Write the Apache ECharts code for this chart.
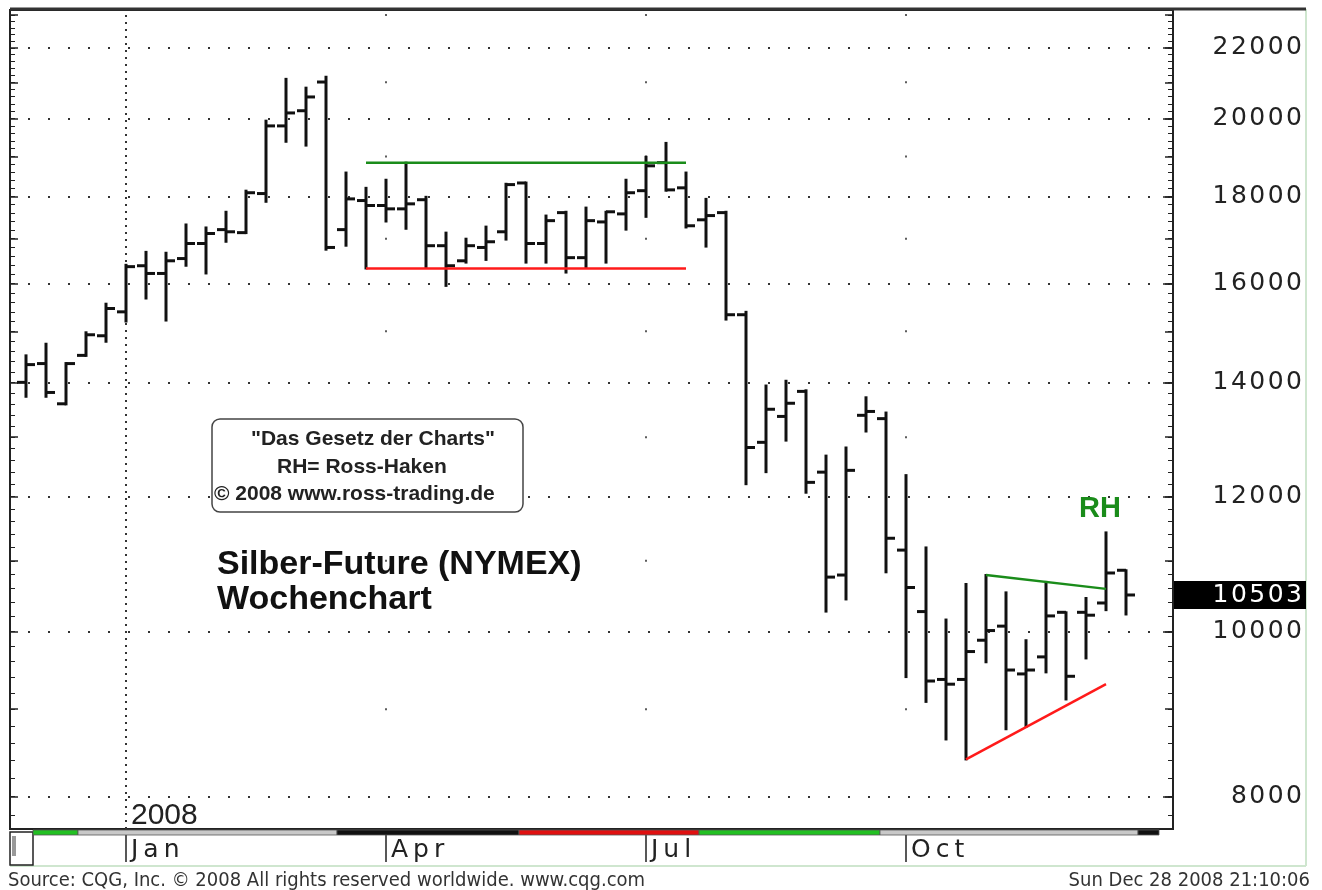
<!DOCTYPE html>
<html lang="de">
<head>
<meta charset="utf-8">
<title>Silber-Future (NYMEX) Wochenchart</title>
<script src="https://cdn.jsdelivr.net/npm/echarts@6/dist/echarts.min.js"></script>
<style>
  html, body { margin: 0; padding: 0; background: #fff; }
  #chart { width: 1322px; height: 890px; }
</style>
</head>
<body>
<div id="chart"></div>
<script>
// Wochenbalken Silber (NYMEX), Woche 0 = Ende Nov 2007, letzte Woche = Dez 2008
var opens  = [14000, 14360, 13600, 14520, 14910, 15400, 16390, 16220, 16550, 16890,
              17210, 17140, 18070, 19800, 20210, 21010, 17210, 17900, 17780, 17700,
              17920, 16840, 16500, 16800, 17160, 18330, 16890, 17610, 16570, 17390,
              17580, 18140, 18840, 18210, 17440, 17610, 15340, 12910, 13370, 13830,
              12400, 10790, 13390, 13330, 11160, 10270, 9370, 9370, 9880, 10070,
              9440, 9660, 10260, 10260, 10390, 10860];
var highs  = [14520, 14750, 14370, 14980, 15570, 16410, 16700, 16680, 17330, 17260,
              17630, 18140, 19940, 21100, 20850, 21160, 18590, 18210, 18410, 18840,
              17990, 17140, 17000, 17280, 18310, 18340, 17540, 17630, 17730, 17630,
              18410, 18990, 19350, 18590, 17940, 17630, 15400, 13940, 14030, 13850,
              12680, 12820, 13720, 13440, 12350, 11200, 10160, 10660, 10790, 10540,
              9880, 10690, 10260, 10460, 11430, 10860];
var lows   = [13730, 13730, 13590, 14510, 14790, 15200, 15680, 15220, 16390, 16220,
              16930, 17130, 17870, 19380, 19280, 16750, 16840, 16330, 17400, 17230,
              16350, 15950, 16460, 16520, 16980, 16460, 16460, 16240, 16350, 16460,
              17210, 17510, 18140, 17260, 16820, 15240, 12200, 12400, 12940, 12060,
              10270, 10440, 13100, 10830, 9400, 9090, 8640, 8410, 9590, 8760,
              8790, 9460, 9120, 9640, 10290, 10230];
var closes = [14340, 13810, 14360, 14930, 15470, 16370, 16220, 16500, 16890, 17120,
              17160, 18090, 19800, 20150, 20590, 16800, 17940, 17780, 17700, 17820,
              16840, 16390, 16840, 16930, 18290, 16890, 17420, 16570, 17420, 17630,
              18090, 18760, 18160, 17300, 17540, 15340, 12820, 13500, 13610, 12230,
              10760, 12430, 13460, 11340, 10610, 9350, 9310, 9730, 10010, 9490,
              9490, 10210, 9410, 10220, 10820, 10503];
var lastPrice = 10503;

var monthLabels = ['Jan', 'Apr', 'Jul', 'Oct'];
var monthWeeks  = [5, 18, 31, 44];
var priceLabels = [8000, 10000, 12000, 14000, 16000, 18000, 20000, 22000];
var halfLevels  = [9000, 11000, 13000, 15000, 17000, 19000, 21000, 23000];

// Trendlinien [Woche, Preis]
var resistance = [[17, 18840], [33, 18840]];
var support    = [[17, 16330], [33, 16330]];
var rhLine     = [[48, 10790], [54, 10590]];
var riseLine   = [[47, 8410], [54, 9310]];
var rhMark     = [53.7, 11790];

// Kontrakt-Leiste unter dem Chart
var stripStart = [0.35, 2.6, 15.55, 24.65, 33.65, 42.7, 55.6];
var stripEnd   = [2.6, 15.55, 24.65, 33.65, 42.7, 55.6, 56.65];
var stripColor = ['#22c022', '#c8c8c8', '#111111', '#e01010', '#22c022', '#c8c8c8', '#111111'];

var lg = function (v) { return Math.log10(v); };
var X_MIN = -0.8, X_MAX = 57.35;
var Y_MIN = lg(7655), Y_MAX = lg(23158);

function steps(a, b, s) { var r = []; for (var v = a; v <= b; v += s) r.push(lg(v)); return r; }
var minorTicks = steps(7800, 23000, 200);
var midTicks = steps(8000, 23000, 1000);
var majorTicks = priceLabels.map(lg);

function spaced(s, sep) { return String(s).split('').join(sep); }

var ohlc = opens.map(function (o, i) {
  return [i, lg(o), lg(highs[i]), lg(lows[i]), lg(closes[i])];
});
var toXY = function (p) { return [p[0], lg(p[1])]; };

var dots = [];
[18, 31, 44].forEach(function (w) {
  halfLevels.forEach(function (v) { dots.push([w, lg(v)]); });
});

var GREEN = '#1a8c1a', RED = '#ff1a1a';
var PLOT = { left: 10, top: 10, width: 1163, height: 819 };

var chart = echarts.init(document.getElementById('chart'));

function plotGrid(extra) { return Object.assign({}, PLOT, extra || {}); }
function plainX(i) { return { gridIndex: i, type: 'value', min: X_MIN, max: X_MAX, show: false }; }
function tickY(gi, pos, vals, len, w) {
  return {
    gridIndex: gi, type: 'value', position: pos, min: Y_MIN, max: Y_MAX,
    axisLine: { show: false, onZero: false }, axisLabel: { show: false }, splitLine: { show: false },
    axisTick: { show: true, inside: true, length: len, customValues: vals,
                lineStyle: { color: '#222', width: w } }
  };
}

var option = {
  animation: false,
  backgroundColor: '#fff',
  grid: [
    plotGrid({ show: true, borderColor: '#222', borderWidth: 2 }),
    plotGrid(), plotGrid(), plotGrid(), plotGrid(),
    { left: 10, top: 830, width: 1163, height: 5 }
  ],
  xAxis: [
    {
      gridIndex: 0, type: 'value', min: X_MIN, max: X_MAX,
      axisLine: { show: false, onZero: false }, splitLine: { show: false },
      axisTick: { show: true, customValues: monthWeeks, length: 33,
                  lineStyle: { color: '#222', width: 1.5 } },
      axisLabel: {
        customValues: monthWeeks, align: 'left', margin: 9, padding: [0, 0, 0, 5],
        fontFamily: 'DejaVu Sans', fontSize: 25, color: '#222',
        formatter: function (v) { return spaced(monthLabels[monthWeeks.indexOf(v)], '\u2009'); }
      }
    },
    plainX(1), plainX(2), plainX(3), plainX(4), plainX(5)
  ],
  yAxis: [
    {
      gridIndex: 0, type: 'value', position: 'right', min: Y_MIN, max: Y_MAX,
      axisLine: { show: false, onZero: false },
      axisTick: { show: true, inside: true, length: 10, customValues: majorTicks,
                  lineStyle: { color: '#222', width: 1.5 } },
      splitLine: { show: true, lineStyle: { color: '#333', width: 2, type: [2, 18], dashOffset: 2 } },
      axisLabel: {
        customValues: majorTicks.concat([lg(lastPrice)]), margin: 133, align: 'right',
        formatter: function (v) {
          var p = Math.round(Math.pow(10, v));
          return (p === lastPrice ? '{last|' : '{n|') + spaced(p, '\u200a') + '}';
        },
        rich: {
          n: { fontFamily: 'DejaVu Sans', fontSize: 25, color: '#222', padding: [0, 4, 0, 0] },
          last: { fontFamily: 'DejaVu Sans', fontSize: 25, color: '#fff', backgroundColor: '#000',
                  width: 128, height: 27, align: 'right', padding: [1, 4, 0, 0] }
        }
      }
    },
    tickY(1, 'right', minorTicks, 5, 1),
    tickY(2, 'left', minorTicks, 5, 1),
    tickY(3, 'right', midTicks, 8, 1.5),
    tickY(4, 'left', midTicks, 8, 1.5),
    { gridIndex: 5, type: 'value', min: 0, max: 1, show: false }
  ],
  series: [
    {
      type: 'scatter', xAxisIndex: 0, yAxisIndex: 0, data: dots, silent: true,
      symbol: 'rect', symbolSize: 2, itemStyle: { color: '#333' }, z: 1
    },
    {
      type: 'custom', xAxisIndex: 0, yAxisIndex: 0, data: ohlc, z: 5,
      encode: { x: 0, y: [1, 2, 3, 4] },
      renderItem: function (params, api) {
        var x = api.value(0);
        var o = api.coord([x, api.value(1)]);
        var h = api.coord([x, api.value(2)]);
        var l = api.coord([x, api.value(3)]);
        var c = api.coord([x, api.value(4)]);
        var st = { stroke: '#111', lineWidth: 3 };
        return {
          type: 'group',
          children: [
            { type: 'line', shape: { x1: h[0], y1: h[1] - 1, x2: l[0], y2: l[1] + 1 }, style: st },
            { type: 'line', shape: { x1: o[0] - 9, y1: o[1], x2: o[0], y2: o[1] }, style: st },
            { type: 'line', shape: { x1: c[0], y1: c[1], x2: c[0] + 9, y2: c[1] }, style: st }
          ]
        };
      },
      markLine: {
        silent: true, symbol: 'none', label: { show: false },
        lineStyle: { color: '#333', width: 2, type: [2, 5] },
        data: [{ xAxis: monthWeeks[0] }]
      }
    },
    {
      type: 'line', xAxisIndex: 0, yAxisIndex: 0, data: resistance.map(toXY), z: 6,
      showSymbol: false, silent: true, lineStyle: { color: GREEN, width: 2.5 }
    },
    {
      type: 'line', xAxisIndex: 0, yAxisIndex: 0, data: support.map(toXY), z: 6,
      showSymbol: false, silent: true, lineStyle: { color: RED, width: 2.5 }
    },
    {
      type: 'line', xAxisIndex: 0, yAxisIndex: 0, data: rhLine.map(toXY), z: 6,
      showSymbol: false, silent: true, lineStyle: { color: GREEN, width: 2.5 },
      markPoint: {
        symbol: 'rect', symbolSize: 1, itemStyle: { color: 'rgba(0,0,0,0)' },
        label: { show: true, formatter: 'RH', fontFamily: 'Liberation Sans', fontWeight: 'bold',
                 fontSize: 29, color: GREEN },
        data: [{ coord: toXY(rhMark) }]
      }
    },
    {
      type: 'line', xAxisIndex: 0, yAxisIndex: 0, data: riseLine.map(toXY), z: 6,
      showSymbol: false, silent: true, lineStyle: { color: RED, width: 2.5 }
    },
    {
      type: 'custom', xAxisIndex: 5, yAxisIndex: 5, silent: true,
      data: stripStart.map(function (s, i) { return [s, stripEnd[i]]; }),
      encode: { x: [0, 1] },
      renderItem: function (params, api) {
        var a = api.coord([api.value(0), 1]);
        var b = api.coord([api.value(1), 0]);
        return {
          type: 'rect',
          shape: { x: a[0], y: a[1], width: b[0] - a[0], height: b[1] - a[1] },
          style: { fill: stripColor[params.dataIndex], stroke: '#555', lineWidth: 0.8 }
        };
      }
    }
  ],
  graphic: [
    { type: 'line', shape: { x1: 10, y1: 9, x2: 1306, y2: 9 }, style: { stroke: '#333', lineWidth: 3 }, z: 10 },
    { type: 'line', shape: { x1: 1306, y1: 9, x2: 1306, y2: 866 }, style: { stroke: '#cfe6cf', lineWidth: 2 } },
    { type: 'line', shape: { x1: 10, y1: 866, x2: 1306, y2: 866 }, style: { stroke: '#cfe6cf', lineWidth: 2 } },
    { type: 'rect', shape: { x: 10, y: 832, width: 23, height: 33 }, style: { fill: '#fff', stroke: '#222', lineWidth: 1.5 } },
    { type: 'rect', shape: { x: 12, y: 836, width: 4, height: 20 }, style: { fill: '#999' } },
    { type: 'rect', shape: { x: 212, y: 419, width: 311, height: 93, r: 8 },
      style: { fill: '#fff', stroke: '#444', lineWidth: 1.5 }, z: 10 },
    { type: 'text', x: 251, y: 439, z: 11,
      style: { text: '"Das Gesetz der Charts"', font: 'bold 21px "Liberation Sans"', fill: '#222', verticalAlign: 'middle' } },
    { type: 'text', x: 277, y: 467, z: 11,
      style: { text: 'RH= Ross-Haken', font: 'bold 21px "Liberation Sans"', fill: '#222', verticalAlign: 'middle' } },
    { type: 'text', x: 214, y: 494, z: 11,
      style: { text: '\u00a9 2008 www.ross-trading.de', font: 'bold 21px "Liberation Sans"', fill: '#222', verticalAlign: 'middle' } },
    { type: 'text', x: 217, y: 565, z: 11,
      style: { text: 'Silber-Future (NYMEX)', font: 'bold 34px "Liberation Sans"', fill: '#111', verticalAlign: 'middle' } },
    { type: 'text', x: 217, y: 600, z: 11,
      style: { text: 'Wochenchart', font: 'bold 34px "Liberation Sans"', fill: '#111', verticalAlign: 'middle' } },
    { type: 'text', x: 131, y: 816, z: 11,
      style: { text: '2008', font: '30px "Liberation Sans"', fill: '#222', verticalAlign: 'middle' } },
    { type: 'text', x: 8, y: 881,
      style: { text: 'Source: CQG, Inc. \u00a9 2008 All rights reserved worldwide. www.cqg.com',
               font: '20px "Liberation Sans Narrow", "DejaVu Sans Condensed"', fill: '#333', verticalAlign: 'middle' } },
    { type: 'text', x: 1310, y: 881,
      style: { text: 'Sun Dec 28 2008 21:10:06', font: '20px "Liberation Sans Narrow", "DejaVu Sans Condensed"',
               fill: '#333', align: 'right', verticalAlign: 'middle' } }
  ]
};

chart.setOption(option);
</script>
</body>
</html>
